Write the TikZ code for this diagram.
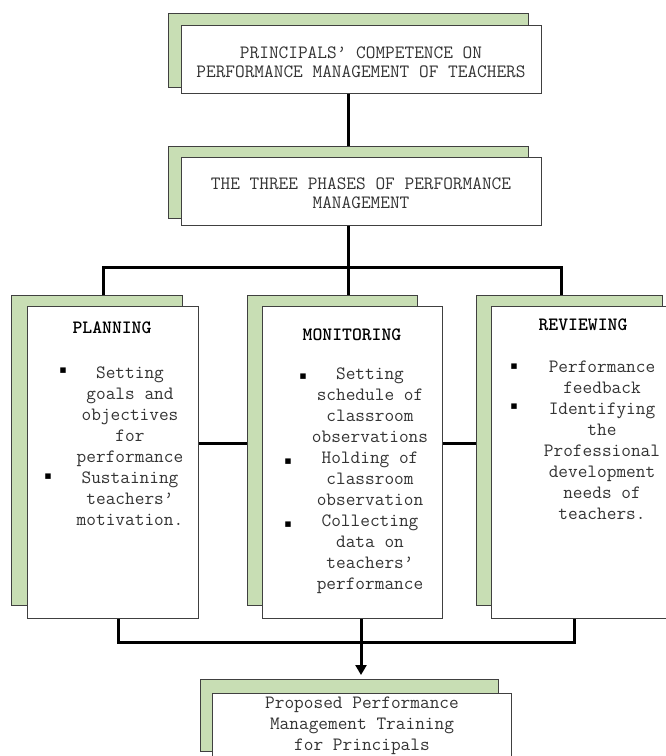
\documentclass[tikz,border=0pt]{standalone}
\usepackage{fontspec}
\newfontfamily\bulletfont{DejaVu Sans}
\usepackage{tikz}
\usetikzlibrary{arrows.meta}
\definecolor{paleolive}{RGB}{200,222,180}

\begin{document}
\begin{tikzpicture}[x=1pt, y=-1pt,
  back/.style={draw=black!75, fill=paleolive, line width=0.9pt, inner sep=0pt, anchor=north west},
  card/.style={draw=black!75, fill=white, line width=0.9pt, inner sep=0pt, anchor=north west},
  body/.style={font=\ttfamily\fontsize{18.8}{21}\selectfont, text=black!80, align=center, inner sep=0pt},
  tight/.style={font=\ttfamily\fontsize{18.8}{19.5}\selectfont},
  head/.style={font=\ttfamily\bfseries\fontsize{18.8}{21}\selectfont, inner sep=0pt},
  bul/.style={font=\bulletfont\fontsize{11}{11}\selectfont, inner sep=0pt},
  link/.style={line width=3pt}]
  \useasboundingbox (0,0) rectangle (666,756);
  \clip (0,0) rectangle (666,756);

  % top boxes
  \node[back, minimum width=360, minimum height=74] (topB) at (168,13) {};
  \node[card, minimum width=360, minimum height=68] (top) at (181,25) {};
  \node[body, tight] (topT) at (361,62) {PRINCIPALS’ COMPETENCE ON\\PERFORMANCE MANAGEMENT OF TEACHERS};

  \node[back, minimum width=360, minimum height=72] (phasesB) at (168,146) {};
  \node[card, minimum width=360, minimum height=68] (phases) at (181,157) {};
  \node[body, tight] (phasesT) at (361,193) {THE THREE PHASES OF PERFORMANCE\\MANAGEMENT};

  % the three phases
  \node[back, minimum width=171, minimum height=310] (planB) at (11,295) {};
  \node[card, minimum width=171, minimum height=312] (plan) at (27,306) {};
  \node[head] (planH) at (112,328) {PLANNING};
  \node[body] (planT) at (130,446) {Setting\\goals and\\objectives\\for\\performance\\Sustaining\\teachers’\\motivation.};
  \node[bul] (planB1) at (63,371) {▪};
  \node[bul] (planB2) at (48,477) {▪};

  \node[back, minimum width=170, minimum height=310] (monB) at (247,295) {};
  \node[card, minimum width=180, minimum height=312] (mon) at (262,306) {};
  \node[head] (monH) at (352,335) {MONITORING};
  \node[body] (monT) at (370,481) {Setting\\schedule of\\classroom\\observations\\Holding of\\classroom\\observation\\Collecting\\data on\\teachers’\\performance};
  \node[bul] (monB1) at (303,377) {▪};
  \node[bul] (monB2) at (288,462) {▪};
  \node[bul] (monB3) at (288,525) {▪};

  \node[back, minimum width=186, minimum height=310] (revB) at (476,295) {};
  \node[card, minimum width=186, minimum height=312] (rev) at (491,306) {};
  \node[head] (revH) at (583,325) {REVIEWING};
  \node[body] (revT) at (602,440) {Performance\\feedback\\Identifying\\the\\Professional\\development\\needs of\\teachers.};
  \node[bul] (revB1) at (514,367) {▪};
  \node[bul] (revB2) at (514,407) {▪};

  % proposal
  \node[back, minimum width=298, minimum height=72] (propB) at (200,679) {};
  \node[card, minimum width=299, minimum height=72] (prop) at (212,693) {};
  \node[body] (propT) at (362,726) {Proposed Performance\\Management Training\\for Principals};

  % connectors
  \coordinate (jl) at (103,267);
  \coordinate (jm) at (348,267);
  \coordinate (jr) at (561,267);
  \coordinate (hy) at (0,443);
  \coordinate (bl) at (118,642);
  \coordinate (br) at (574,642);
  \coordinate (ar) at (361,642);

  \draw[link] (top.south -| jm) -- (phasesB.north -| jm);
  \draw[link] (phases.south -| jm) -- (jm);
  \draw[link] (planB.north -| jl) -- (jl) -- (jr) -- (revB.north -| jr);
  \draw[link] (jm) -- (monB.north -| jm);
  \draw[link] (plan.east |- hy) -- (monB.west |- hy);
  \draw[link] (mon.east |- hy) -- (revB.west |- hy);
  \draw[link] (plan.south -| bl) -- (bl) -- (br) -- (rev.south -| br);
  \draw[link, -{Triangle[length=10pt, width=11pt]}, shorten >=4pt] (mon.south -| ar) -- (propB.north -| ar);
\end{tikzpicture}
\end{document}
